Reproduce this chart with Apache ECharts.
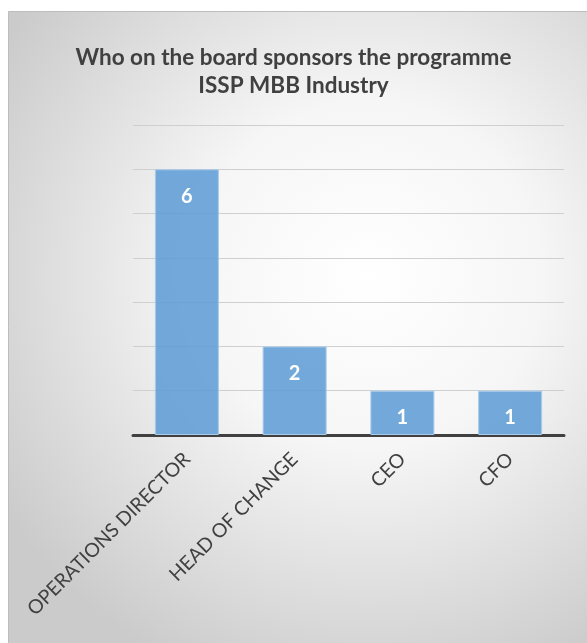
<!DOCTYPE html>
<html>
<head>
<meta charset="utf-8">
<script src="https://cdn.jsdelivr.net/npm/echarts@6/dist/echarts.min.js"></script>
<style>
  html, body { margin: 0; padding: 0; background: #ffffff; }
  #chart { width: 587px; height: 643px; }
</style>
</head>
<body>
<div id="chart"></div>
<script>
// Board sponsors of the programme
const categories = ['OPERATIONS DIRECTOR', 'HEAD OF CHANGE', 'CEO', 'CFO'];
const sponsorCounts = [6, 2, 1, 1];
const titleLines = ['Who on the board sponsors the programme', 'ISSP MBB Industry'];

const FONT = 'Lato, "Open Sans", sans-serif';
const chart = echarts.init(document.getElementById('chart'), null, { renderer: 'canvas' });

chart.setOption({
  animation: false,
  graphic: [
    {
      type: 'rect',
      silent: true,
      z: -10,
      shape: { x: 8.5, y: 11.5, width: 600, height: 660 },
      style: {
        fill: new echarts.graphic.RadialGradient(0.6, 0.4, 0.72, [
          { offset: 0, color: '#ffffff' },
          { offset: 0.4, color: '#f6f6f6' },
          { offset: 1, color: '#cbcbcb' }
        ]),
        stroke: '#bdbdbd',
        lineWidth: 1
      }
    }
  ],
  title: {
    text: titleLines.join('\n'),
    left: 'center',
    top: 44,
    padding: 0,
    textStyle: {
      fontFamily: FONT,
      fontWeight: 'bold',
      fontSize: 22.5,
      lineHeight: 28,
      align: 'center',
      color: '#404040'
    }
  },
  grid: { left: 133, right: 23, top: 125, bottom: 208 },
  xAxis: {
    type: 'category',
    data: categories,
    axisLine: { lineStyle: { color: '#404040', width: 3 } },
    axisTick: { show: false },
    axisLabel: {
      rotate: 45,
      margin: 21,
      fontFamily: FONT,
      fontSize: 19.5,
      color: '#404040'
    }
  },
  yAxis: {
    type: 'value',
    min: 0,
    max: 7,
    interval: 1,
    axisLine: { show: false },
    axisTick: { show: false },
    axisLabel: { show: false },
    splitLine: { lineStyle: { color: '#cfcfcf', width: 1 } }
  },
  series: [
    {
      type: 'bar',
      data: sponsorCounts,
      barWidth: 64,
      itemStyle: {
        color: 'rgba(91, 155, 213, 0.85)',
        borderColor: '#a9cbea',
        borderWidth: 1
      },
      label: {
        show: true,
        position: 'insideTop',
        distance: 17,
        fontFamily: FONT,
        fontWeight: 'bold',
        fontSize: 20,
        color: '#ffffff'
      }
    }
  ]
});
</script>
</body>
</html>
